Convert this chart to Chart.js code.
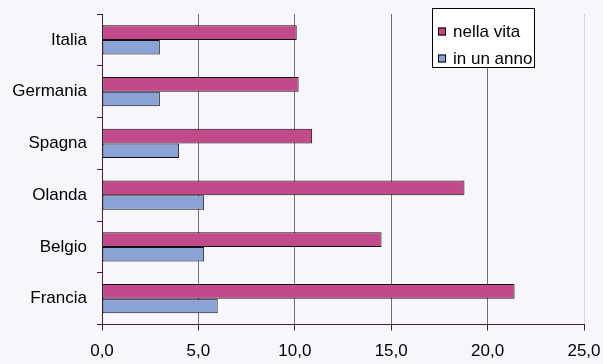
<!DOCTYPE html>
<html>
<head>
<meta charset="utf-8">
<script src="https://cdn.jsdelivr.net/npm/chart.js@4.4.1/dist/chart.umd.min.js"></script>
<style>
  html, body { margin: 0; padding: 0; background: #f6f6fb; }
  #wrap { width: 603px; height: 364px; }
</style>
</head>
<body>
<div id="wrap"><canvas id="c" width="603" height="364"></canvas></div>
<script>
const categories = ['Italia', 'Germania', 'Spagna', 'Olanda', 'Belgio', 'Francia'];
const nellaVita = [10.1, 10.2, 10.9, 18.8, 14.5, 21.4];
const inUnAnno = [3.0, 3.0, 4.0, 5.3, 5.3, 6.0];
const seriesNames = ['nella vita', 'in un anno'];
const xTicks = [0, 5, 10, 15, 20, 25];

const FONT = "'Liberation Sans', Arial, sans-serif";
const AXIS = '#4a1c3c';

// Boxed legend inside the plot, top right
const boxLegend = {
  id: 'boxLegend',
  afterDatasetsDraw(chart) {
    const ctx = chart.ctx;
    const x = 432, y = 8.5, w = 102, h = 59;
    ctx.save();
    ctx.fillStyle = '#ffffff';
    ctx.fillRect(x, y, w, h);
    ctx.strokeStyle = '#000';
    ctx.lineWidth = 1;
    ctx.strokeRect(x + 0.5, y, w, h);
    ctx.font = '17px ' + FONT;
    ctx.textBaseline = 'middle';
    chart.data.datasets.forEach((ds, i) => {
      const cy = 31.5 + i * 27;
      ctx.fillStyle = ds.backgroundColor;
      ctx.fillRect(438, cy - 4, 8, 8);
      ctx.strokeStyle = '#000';
      ctx.strokeRect(438.5, cy - 3.5, 7, 7);
      ctx.fillStyle = '#000';
      ctx.fillText(ds.label, 453, cy + 1);
    });
    ctx.restore();
  }
};

new Chart(document.getElementById('c'), {
  type: 'bar',
  data: {
    labels: categories,
    datasets: [
      { label: seriesNames[0], data: nellaVita, backgroundColor: '#c2498a', borderColor: '#111', borderWidth: 1, borderSkipped: false },
      { label: seriesNames[1], data: inUnAnno, backgroundColor: '#8aa2d6', borderColor: '#111', borderWidth: 1, borderSkipped: false }
    ]
  },
  options: {
    indexAxis: 'y',
    responsive: false,
    animation: false,
    devicePixelRatio: 1,
    layout: { padding: { top: 14, right: 19, left: 0, bottom: 0 } },
    datasets: { bar: { categoryPercentage: 0.566, barPercentage: 1.0 } },
    plugins: { legend: { display: false }, tooltip: { enabled: false } },
    scales: {
      x: {
        min: 0, max: 25,
        afterBuildTicks(scale) { scale.ticks = xTicks.map(v => ({ value: v })); },
        afterFit(scale) { scale.height = 39.5; scale.paddingLeft = 0; scale.paddingRight = 0; },
        border: { color: AXIS, width: 1 },
        grid: {
          color: ctx => (ctx.tick && ctx.tick.value === 25) ? '#d6d6dc' : '#707070',
          lineWidth: 1,
          tickColor: AXIS,
          tickLength: 6,
          drawTicks: true
        },
        ticks: {
          color: '#000',
          font: { family: FONT, size: 17 },
          padding: 11,
          callback: v => v.toFixed(1).replace('.', ',')
        }
      },
      y: {
        afterFit(scale) { scale.width = 102; scale.paddingTop = 0; scale.paddingBottom = 0; },
        border: { color: AXIS, width: 1 },
        grid: {
          offset: true,
          drawOnChartArea: false,
          drawTicks: true,
          tickLength: 5,
          tickColor: AXIS
        },
        ticks: {
          color: '#000',
          font: { family: FONT, size: 17 },
          padding: 10
        }
      }
    }
  },
  plugins: [boxLegend]
});
</script>
</body>
</html>
